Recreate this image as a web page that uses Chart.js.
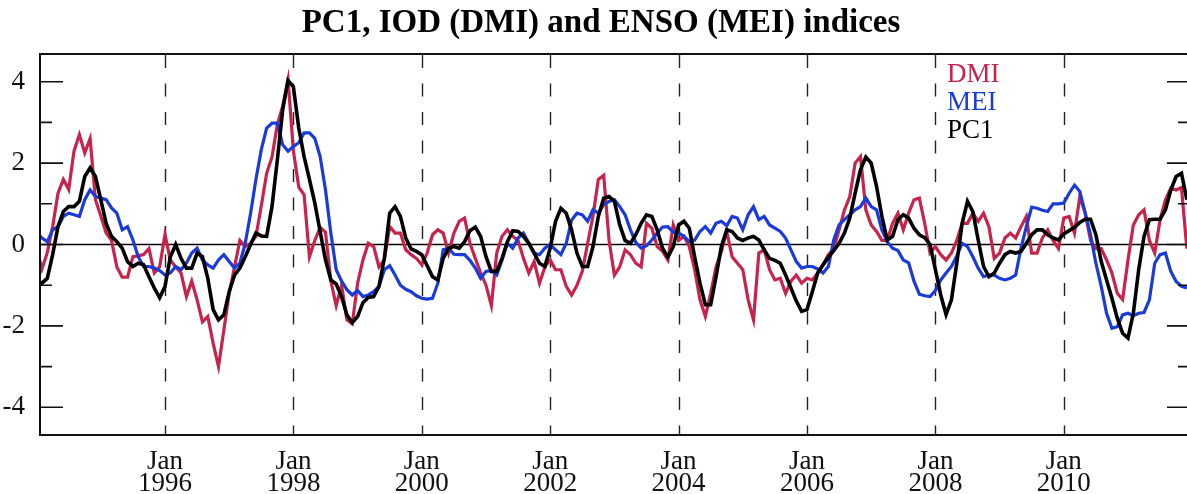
<!DOCTYPE html>
<html>
<head>
<meta charset="utf-8">
<title>PC1, IOD (DMI) and ENSO (MEI) indices</title>
<script src="https://cdn.jsdelivr.net/npm/chart.js@4.4.1/dist/chart.umd.min.js"></script>
<style>
  html, body { margin: 0; padding: 0; background: #fff; overflow: hidden; }
  #wrap { width: 1192px; height: 494px; }
</style>
</head>
<body>
<div id="wrap"><canvas id="c" width="1192" height="494"></canvas></div>
<script>
// Monthly index values, starting January 1994
const startYear = 1994;

const dmi = [
  -0.1, -0.6, -0.2, 0.44, 1.26, 1.6, 1.35, 2.3, 2.7, 2.25,
  2.6, 1.1, 0.7, 0.28, 0.1, -0.55, -0.8, -0.8, -0.3, -0.28,
  -0.25, -0.1, -0.7, -0.55, 0.24, -0.38, -0.55, -0.7, -1.28, -0.9,
  -1.36, -1.9, -1.77, -2.43, -3.0, -2.1, -1.2, -0.55, 0.1, -0.05,
  0.03, 0.2, 0.95, 1.75, 2.15, 2.95, 3.4, 4.05, 2.3, 1.41,
  1.22, -0.3, 0.1, 0.42, 0.3, -0.9, -1.5, -1.0, -1.85, -1.95,
  -0.95, -0.38, 0.03, -0.05, -0.55, -0.38, 0.44, 0.28, 0.28, -0.13,
  -0.25, -0.34, -0.5, -0.21, 0.24, 0.36, 0.28, -0.21, 0.28, 0.57,
  0.65, 0.03, -0.34, -0.7, -1.0, -1.5, -0.21, 0.2, 0.36, 0.2,
  0.1, -0.34, -0.7, -0.42, -0.95, -0.55, -0.38, -0.62, -0.62, -1.03,
  -1.24, -1.0, -0.66, 0.03, 0.7, 1.6, 1.7, 0.1, -0.75, -0.55,
  -0.13, -0.25, -0.46, -0.55, 0.52, 0.4, -0.05, -0.17, -0.38, 0.48,
  0.1, 0.2, -0.05, -0.62, -1.36, -1.77, -1.2, -0.55, -0.17, 0.32,
  -0.3, -0.46, -0.62, -1.36, -1.85, -0.21, -0.13, -0.62, -0.87, -0.83,
  -1.2, -0.9, -0.75, -0.95, -0.83, -0.87, -0.7, -0.5, -0.25, -0.1,
  0.36, 0.85, 1.18, 2.0, 2.16, 0.85, 0.48, 0.32, 0.1, 0.1,
  0.52, 0.77, 0.36, 0.77, 1.1, 1.14, 0.52, -0.21, -0.05, -0.25,
  -0.38, -0.21, 0.1, 0.52, 0.52, 0.77, 0.57, 0.77, 0.44, -0.34,
  -0.21, 0.16, 0.28, 0.16, 0.44, 0.69, -0.21, -0.21, 0.16, 0.36,
  0.1, -0.1, 0.65, 0.69, 0.28, 1.18, 0.77, 0.1, -0.1, -0.1,
  -0.38, -0.7, -1.2, -1.35, -0.38, 0.48, 0.73, 0.85, 0.1, -0.21,
  0.61, 1.1, 1.39, 1.34, 1.4, -0.1
];

const mei = [
  0.3, 0.16, 0.07, 0.36, 0.44, 0.69, 0.77, 0.73, 0.69, 1.1,
  1.34, 1.18, 1.14, 1.1, 0.9, 0.77, 0.36, 0.44, 0.11, -0.3,
  -0.54, -0.54, -0.58, -0.64, -0.75, -0.7, -0.54, -0.62, -0.46, -0.21,
  -0.09, -0.38, -0.5, -0.58, -0.38, -0.25, -0.42, -0.58, -0.46, 0.03,
  0.77, 1.6, 2.33, 2.86, 2.98, 2.98, 2.45, 2.29, 2.41, 2.5,
  2.74, 2.74, 2.61, 2.16, 1.34, 0.28, -0.62, -0.9, -1.11, -1.24,
  -1.13, -1.28, -1.24, -1.16, -1.03, -0.62, -0.52, -0.75, -1.0, -1.1,
  -1.16, -1.26, -1.32, -1.34, -1.32, -0.95, -0.13, -0.09, -0.24, -0.25,
  -0.25, -0.39, -0.58, -0.83, -0.66, -0.64, -0.75, -0.38, 0.03, -0.09,
  0.16, 0.28, 0.03, -0.21, -0.25, -0.09, 0.0, -0.13, -0.25, 0.03,
  0.6, 0.77, 0.73, 0.57, 0.85, 0.77, 0.98, 1.06, 1.1, 0.93,
  0.73, 0.36, 0.05, -0.09, -0.03, 0.11, 0.28, 0.43, 0.44, 0.3,
  0.28, 0.2, 0.07, 0.11, 0.32, 0.44, 0.28, 0.52, 0.57, 0.46,
  0.69, 0.65, 0.36, 0.73, 0.93, 0.61, 0.69, 0.48, 0.4, 0.32,
  0.16, -0.13, -0.42, -0.58, -0.54, -0.54, -0.6, -0.7, -0.54, 0.11,
  0.48, 0.61, 0.73, 0.85, 0.93, 1.14, 0.93, 0.85, 0.36, 0.07,
  -0.09, -0.15, -0.38, -0.45, -0.9, -1.22, -1.26, -1.28, -1.13, -0.87,
  -0.7, -0.54, -0.28, 0.03, -0.05, -0.3, -0.58, -0.79, -0.75, -0.75,
  -0.83, -0.87, -0.83, -0.75, -0.09, 0.44, 0.92, 0.89, 0.84, 0.81,
  1.0, 1.0, 1.02, 1.26, 1.46, 1.3, 0.77, 0.24, -0.46, -1.03,
  -1.69, -2.06, -2.02, -1.73, -1.69, -1.75, -1.69, -1.67, -1.36, -0.46,
  -0.25, -0.21, -0.66, -0.91, -1.03, -1.07
];

const pc1 = [
  -0.87, -0.95, -0.83, -0.25, 0.44, 0.81, 0.93, 0.93, 1.06, 1.67,
  1.88, 1.67, 1.1, 0.52, 0.2, 0.07, -0.09, -0.42, -0.54, -0.46,
  -0.5, -0.79, -1.07, -1.31, -1.03, -0.3, 0.0, -0.34, -0.58, -0.58,
  -0.21, -0.3, -0.83, -1.6, -1.85, -1.73, -1.16, -0.75, -0.58, -0.3,
  0.0, 0.28, 0.21, 0.2, 0.93, 2.08, 3.31, 4.03, 3.87, 2.86,
  2.16, 1.6, 1.02, 0.32, -0.38, -0.87, -0.97, -1.28, -1.73, -1.92,
  -1.77, -1.43, -1.3, -1.28, -1.03, -0.34, 0.77, 0.93, 0.69, 0.16,
  -0.11, -0.17, -0.25, -0.52, -0.79, -0.87, -0.34, -0.09, -0.05, -0.09,
  0.07, 0.34, 0.43, 0.2, -0.3, -0.66, -0.66, -0.34, 0.07, 0.34,
  0.32, 0.2, 0.03, -0.21, -0.46, -0.54, -0.09, 0.57, 0.89, 0.77,
  0.36, -0.21, -0.54, -0.54, -0.05, 0.69, 1.14, 1.18, 1.06, 0.48,
  0.1, 0.03, 0.24, 0.52, 0.73, 0.69, 0.36, -0.09, -0.31, -0.05,
  0.48, 0.57, 0.4, -0.3, -0.95, -1.48, -1.48, -0.79, -0.05, 0.36,
  0.32, 0.16, 0.1, 0.16, 0.2, 0.11, -0.13, -0.34, -0.39, -0.46,
  -0.75, -1.07, -1.39, -1.64, -1.6, -1.16, -0.7, -0.5, -0.31, -0.15,
  0.03, 0.28, 0.65, 1.26, 1.84, 2.15, 2.0, 1.43, 0.69, 0.11,
  0.2, 0.61, 0.73, 0.65, 0.4, 0.24, 0.17, 0.0, -0.62, -1.24,
  -1.72, -1.36, -0.46, 0.52, 1.06, 0.81, 0.11, -0.54, -0.79, -0.7,
  -0.46, -0.25, -0.17, -0.21, -0.17, 0.03, 0.24, 0.36, 0.36, 0.24,
  0.16, 0.11, 0.26, 0.34, 0.42, 0.54, 0.62, 0.62, 0.24, -0.42,
  -0.87, -1.32, -1.81, -2.18, -2.3, -1.69, -0.62, 0.2, 0.61, 0.62,
  0.62, 0.85, 1.34, 1.67, 1.75, 1.1
];

// Axis ticks
const xTicks = [1996, 1998, 2000, 2002, 2004, 2006, 2008, 2010];
const yTicks = [-4, -2, 0, 2, 4];
const yMinorTicks = [-3, -1, 1, 3];

const seriesNames = ['DMI', 'MEI', 'PC1'];
const seriesColors = ['#c8234a', '#1a3ada', '#000000'];

const months = dmi.map((_, i) => startYear + i / 12);
const toPoints = arr => arr.map((v, i) => ({ x: months[i], y: v }));

const SERIF = '"Liberation Serif", "Times New Roman", serif';

// Frame, dashed year lines, zero line, inner tick marks, legend and title
const decorations = {
  id: 'decorations',
  beforeDatasetsDraw(chart) {
    const { ctx, chartArea: a, scales: { x, y } } = chart;
    ctx.save();
    ctx.strokeStyle = '#222';
    ctx.lineWidth = 1.4;
    ctx.setLineDash([13, 15.5]);
    xTicks.forEach(t => {
      const px = Math.round(x.getPixelForValue(t)) + 0.5;
      ctx.beginPath();
      ctx.moveTo(px, a.top + 1);
      ctx.lineTo(px, a.bottom);
      ctx.stroke();
    });
    ctx.setLineDash([]);
    ctx.strokeStyle = '#000';
    ctx.lineWidth = 1.3;
    const py0 = y.getPixelForValue(0);
    ctx.beginPath();
    ctx.moveTo(a.left, py0);
    ctx.lineTo(a.right, py0);
    ctx.stroke();
    ctx.restore();
  },
  afterDatasetsDraw(chart) {
    const { ctx, chartArea: a, scales: { y } } = chart;
    ctx.save();
    ctx.strokeStyle = '#111';
    ctx.lineWidth = 2;
    ctx.strokeRect(a.left, a.top, a.right - a.left, a.bottom - a.top);

    ctx.lineWidth = 1.6;
    const tick = (v, len) => {
      const py = y.getPixelForValue(v);
      ctx.beginPath();
      ctx.moveTo(a.left, py); ctx.lineTo(a.left + len, py);
      ctx.moveTo(a.right, py); ctx.lineTo(a.right - len, py);
      ctx.stroke();
    };
    yTicks.forEach(v => tick(v, 23));
    yMinorTicks.forEach(v => tick(v, 12));

    // legend
    ctx.font = '27px ' + SERIF;
    ctx.textAlign = 'left';
    ctx.textBaseline = 'alphabetic';
    seriesNames.forEach((name, i) => {
      ctx.fillStyle = seriesColors[i];
      ctx.fillText(name, 947, 82 + i * 28);
    });

    // title
    ctx.fillStyle = '#000';
    ctx.font = 'bold 33px ' + SERIF;
    ctx.textAlign = 'center';
    ctx.fillText('PC1, IOD (DMI) and ENSO (MEI) indices', 601, 32);
    ctx.restore();
  }
};

new Chart(document.getElementById('c'), {
  type: 'line',
  data: {
    datasets: [
      { label: seriesNames[0], data: toPoints(dmi), borderColor: seriesColors[0], borderWidth: 3.2, order: 2 },
      { label: seriesNames[1], data: toPoints(mei), borderColor: seriesColors[1], borderWidth: 3.2, order: 1 },
      { label: seriesNames[2], data: toPoints(pc1), borderColor: seriesColors[2], borderWidth: 3.6, order: 0 }
    ]
  },
  options: {
    responsive: false,
    animation: false,
    devicePixelRatio: 1,
    layout: { padding: { top: 54, right: 2, left: 0, bottom: 0 } },
    elements: {
      point: { radius: 0 },
      line: { tension: 0, borderJoinStyle: 'miter', borderCapStyle: 'butt', fill: false }
    },
    plugins: {
      legend: { display: false },
      title: { display: false },
      tooltip: { enabled: false }
    },
    scales: {
      x: {
        type: 'linear',
        min: 1994.053,
        max: 2011.966,
        afterBuildTicks: s => { s.ticks = xTicks.map(v => ({ value: v })); },
        afterFit: s => { s.height = 59; },
        grid: { display: false },
        border: { display: false },
        ticks: {
          autoSkip: false,
          maxRotation: 0,
          padding: 8,
          color: '#111',
          font: { family: SERIF, size: 27, lineHeight: 0.82 },
          callback: v => ['Jan', String(v)]
        }
      },
      y: {
        type: 'linear',
        min: -4.68,
        max: 4.68,
        afterBuildTicks: s => { s.ticks = yTicks.map(v => ({ value: v })); },
        afterFit: s => { s.width = 40; },
        grid: { display: false },
        border: { display: false },
        ticks: {
          padding: 7,
          color: '#111',
          font: { family: SERIF, size: 27 },
          callback: v => String(v)
        }
      }
    }
  },
  plugins: [decorations]
});
</script>
</body>
</html>
